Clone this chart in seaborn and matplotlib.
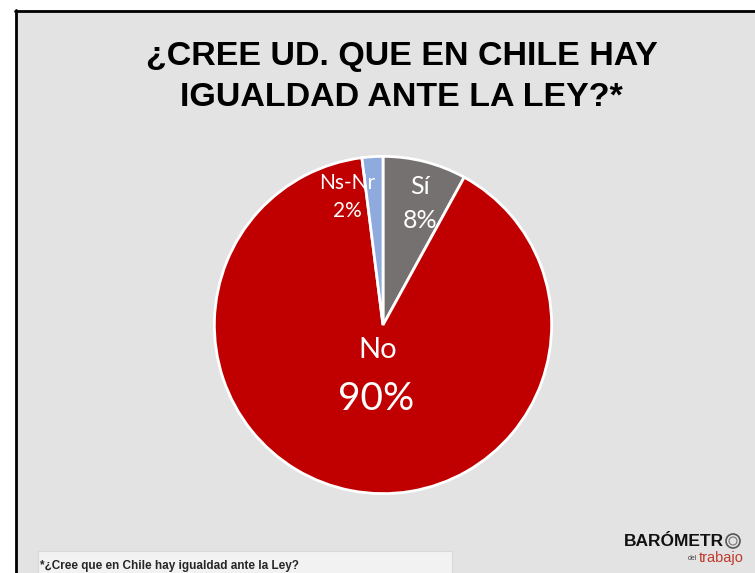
import numpy as np
import seaborn as sns
import matplotlib.pyplot as plt
from matplotlib.patches import Rectangle, Circle

# data
categories = ['Sí', 'No', 'Ns-Nr']
values = [8, 90, 2]
pie_colors = ['#767171', '#c00000', '#8faadc']
title = '¿CREE UD. QUE EN CHILE HAY\nIGUALDAD ANTE LA LEY?*'
footnote = '*¿Cree que en Chile hay igualdad ante la Ley?'

sns.set_style('white')
plt.rcParams['font.family'] = ['Liberation Sans', 'DejaVu Sans']

W, H = 755, 573
fig = plt.figure(figsize=(W / 100, H / 100), dpi=100)
fig.patch.set_facecolor('white')

# slide background with black border top/left
bg = fig.add_axes([0, 0, 1, 1])
bg.set_xlim(0, W)
bg.set_ylim(H, 0)
bg.axis('off')
bg.add_patch(Rectangle((15, 10), W - 15, H - 10, facecolor='#e3e3e3', edgecolor='none'))
bg.plot([15, W], [11, 11], color='black', lw=2)
bg.plot([16, 16], [10, H], color='black', lw=2)

fig.text(0.532, 1 - 77 / H, title, ha='center', va='center', fontsize=24.5,
         fontweight='bold', linespacing=1.4, color='black')

# pie
ax = fig.add_axes([211 / W, 76 / H, 344 / W, 344 / H])
wedges, _ = ax.pie(values, colors=pie_colors, startangle=90, counterclock=False,
                   wedgeprops=dict(edgecolor='white', linewidth=2))
ax.set_xlim(-1.02, 1.02)
ax.set_ylim(-1.02, 1.02)
ax.set_aspect('equal')

lab_font = ['Lato', 'DejaVu Sans']
ax.text(0.22, 0.72, 'Sí\n8%', ha='center', va='center', color='white',
        fontsize=18, family=lab_font, linespacing=1.55)
ax.text(-0.21, 0.76, 'Ns-Nr\n2%', ha='center', va='center', color='white',
        fontsize=15, family=lab_font, linespacing=1.5)
ax.text(-0.03, -0.15, 'No', ha='center', va='center', color='white',
        fontsize=21, family=lab_font)
ax.text(-0.04, -0.44, '90%', ha='center', va='center', color='white',
        fontsize=28, family=lab_font)

# footnote box
bg.add_patch(Rectangle((38, 551), 414, 30, facecolor='#f2f2f2', edgecolor='#d8d8d8', lw=0.8))
bg.text(40, 566, footnote, ha='left', va='center', fontsize=8.5, fontweight='bold',
        family=['Liberation Sans', 'DejaVu Sans'])

# logo
bg.text(624, 541, 'BARÓMETR', ha='left', va='center', fontsize=12.5, fontweight='bold',
        color='#111111')
bg.add_patch(Circle((733, 541), 7, facecolor='none', edgecolor='#555555', lw=1.2))
bg.add_patch(Circle((733, 541), 4, facecolor='none', edgecolor='#777777', lw=0.8))
bg.text(697, 558, 'del', ha='right', va='center', fontsize=5, color='#444444')
bg.text(699, 558, 'trabajo', ha='left', va='center', fontsize=10.5, color='#c0392b')

fig.savefig('out.png', dpi=100)
